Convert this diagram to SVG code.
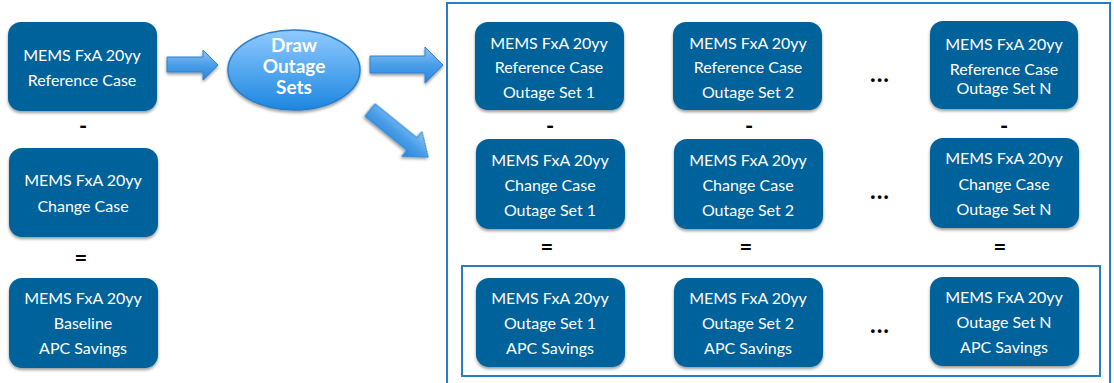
<svg xmlns="http://www.w3.org/2000/svg" width="1114" height="383" viewBox="0 0 1114 383">
<defs>
<filter id="sh" x="-10%" y="-10%" width="120%" height="130%">
<feDropShadow dx="0" dy="2" stdDeviation="1.5" flood-color="#000" flood-opacity="0.4"/>
</filter>
<linearGradient id="ag" x1="0" y1="0" x2="0" y2="1">
<stop offset="0" stop-color="#8cc4f4"/>
<stop offset="0.5" stop-color="#4a9ee8"/>
<stop offset="1" stop-color="#2a86dc"/>
</linearGradient>
<linearGradient id="eg" x1="0" y1="0" x2="0" y2="1">
<stop offset="0" stop-color="#90caff"/>
<stop offset="0.5" stop-color="#55a8f0"/>
<stop offset="1" stop-color="#1d86e0"/>
</linearGradient>
<style>
.box{fill:#03629a;filter:url(#sh)}
.t{font-family:Lato,"Open Sans","DejaVu Sans",sans-serif;font-size:16px;fill:#fff;text-anchor:middle}
.et{font-family:Lato,"Open Sans","DejaVu Sans",sans-serif;font-size:19px;font-weight:bold;fill:#fff;text-anchor:middle}
.op{font-family:Lato,"Open Sans","DejaVu Sans",sans-serif;font-size:22px;font-weight:bold;fill:#000;text-anchor:middle}
.dots{font-family:Lato,"Open Sans","DejaVu Sans",sans-serif;font-size:24px;font-weight:bold;fill:#000;text-anchor:middle;letter-spacing:1px}
.arr{fill:url(#ag);stroke:#2f82cf;stroke-width:1;filter:url(#sh)}
.frame{fill:none;stroke:#2a7cc4;stroke-width:2}
</style>
</defs>
<g id="frames">
<rect class="frame" x="447" y="3" width="663" height="382"/>
<rect class="frame" x="462" y="266" width="638" height="110" stroke-width="1.5"/>
</g>
<g id="connectors">
<polygon class="arr" points="167,57 203,57 203,50 218,65 203,80 203,72 167,72"/>
<polygon class="arr" points="370,56 425,56 425,47 443,65 425,83 425,73 370,73"/>
<polygon class="arr" transform="translate(370,110) rotate(39)" points="0,-8 54,-8 54,-16 75,0 54,16 54,8 0,8"/>
</g>
<g id="ref">
<rect class="box" x="8" y="22" width="149" height="89" rx="13"/>
<text class="t" x="82" y="61">MEMS FxA 20yy</text>
<text class="t" x="82" y="86">Reference Case</text>
</g>
<g id="change">
<rect class="box" x="9" y="148" width="149" height="89" rx="13"/>
<text class="t" x="83" y="186">MEMS FxA 20yy</text>
<text class="t" x="83" y="212">Change Case</text>
</g>
<g id="baseline">
<rect class="box" x="9" y="278" width="149" height="90" rx="13"/>
<text class="t" x="83" y="304">MEMS FxA 20yy</text>
<text class="t" x="83" y="329">Baseline</text>
<text class="t" x="83" y="354">APC Savings</text>
</g>
<g id="ops-left">
<text class="op" x="83" y="134">-</text>
<text class="op" x="81" y="266">=</text>
</g>
<g id="draw">
<ellipse cx="294" cy="70" rx="66" ry="40" fill="url(#eg)" stroke="#2c7cc6" stroke-width="1.5" filter="url(#sh)"/>
<text class="et" x="294" y="52">Draw</text>
<text class="et" x="294" y="73">Outage</text>
<text class="et" x="294" y="94">Sets</text>
</g>
<g id="r1c1">
<rect class="box" x="475" y="22" width="149" height="88" rx="13"/>
<text class="t" x="549" y="49">MEMS FxA 20yy</text>
<text class="t" x="549" y="73">Reference Case</text>
<text class="t" x="549" y="98">Outage Set 1</text>
</g>
<g id="r1c2">
<rect class="box" x="673" y="22" width="149" height="88" rx="13"/>
<text class="t" x="748" y="49">MEMS FxA 20yy</text>
<text class="t" x="748" y="73">Reference Case</text>
<text class="t" x="748" y="98">Outage Set 2</text>
</g>
<g id="r1cN">
<rect class="box" x="930" y="21" width="148" height="88" rx="13"/>
<text class="t" x="1004" y="50">MEMS FxA 20yy</text>
<text class="t" x="1004" y="75">Reference Case</text>
<text class="t" x="1004" y="94">Outage Set N</text>
</g>
<g id="r2c1">
<rect class="box" x="476" y="139" width="149" height="90" rx="13"/>
<text class="t" x="550" y="166">MEMS FxA 20yy</text>
<text class="t" x="550" y="191">Change Case</text>
<text class="t" x="550" y="216">Outage Set 1</text>
</g>
<g id="r2c2">
<rect class="box" x="674" y="139" width="149" height="90" rx="13"/>
<text class="t" x="748" y="166">MEMS FxA 20yy</text>
<text class="t" x="748" y="191">Change Case</text>
<text class="t" x="748" y="216">Outage Set 2</text>
</g>
<g id="r2cN">
<rect class="box" x="930" y="138" width="149" height="90" rx="13"/>
<text class="t" x="1004" y="164">MEMS FxA 20yy</text>
<text class="t" x="1004" y="190">Change Case</text>
<text class="t" x="1004" y="215">Outage Set N</text>
</g>
<g id="r3c1">
<rect class="box" x="476" y="278" width="149" height="89" rx="13"/>
<text class="t" x="550" y="304">MEMS FxA 20yy</text>
<text class="t" x="550" y="329">Outage Set 1</text>
<text class="t" x="550" y="354">APC Savings</text>
</g>
<g id="r3c2">
<rect class="box" x="674" y="278" width="149" height="89" rx="13"/>
<text class="t" x="748" y="304">MEMS FxA 20yy</text>
<text class="t" x="748" y="329">Outage Set 2</text>
<text class="t" x="748" y="354">APC Savings</text>
</g>
<g id="r3cN">
<rect class="box" x="930" y="277" width="149" height="89" rx="13"/>
<text class="t" x="1004" y="303">MEMS FxA 20yy</text>
<text class="t" x="1004" y="328">Outage Set N</text>
<text class="t" x="1004" y="353">APC Savings</text>
</g>
<g id="ops-right">
<text class="op" x="550" y="134">-</text>
<text class="op" x="749" y="134">-</text>
<text class="op" x="1004" y="134">-</text>
<text class="op" x="547" y="255">=</text>
<text class="op" x="746" y="255">=</text>
<text class="op" x="1000" y="255">=</text>
<text class="dots" x="880" y="82">...</text>
<text class="dots" x="880" y="199">...</text>
<text class="dots" x="880" y="333">...</text>
</g>
</svg>
